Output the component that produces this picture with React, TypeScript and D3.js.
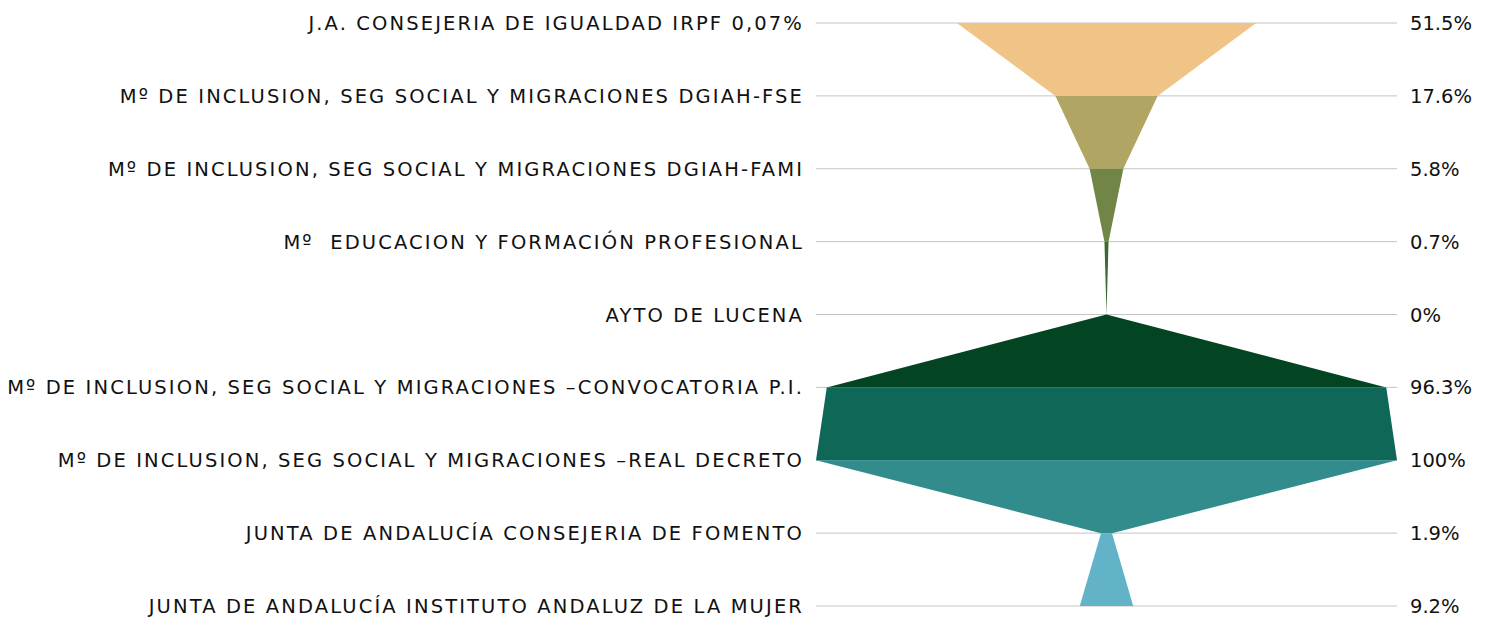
import React from "react";
import * as d3 from "d3";

const categories = [
  "J.A. CONSEJERIA DE IGUALDAD IRPF 0,07%",
  "Mº DE INCLUSION, SEG SOCIAL Y MIGRACIONES DGIAH-FSE",
  "Mº DE INCLUSION, SEG SOCIAL Y MIGRACIONES DGIAH-FAMI",
  "Mº  EDUCACION Y FORMACIÓN PROFESIONAL",
  "AYTO DE LUCENA",
  "Mº DE INCLUSION, SEG SOCIAL Y MIGRACIONES –CONVOCATORIA P.I.",
  "Mº DE INCLUSION, SEG SOCIAL Y MIGRACIONES –REAL DECRETO",
  "JUNTA DE ANDALUCÍA CONSEJERIA DE FOMENTO",
  "JUNTA DE ANDALUCÍA INSTITUTO ANDALUZ DE LA MUJER",
];
const values = [51.5, 17.6, 5.8, 0.7, 0, 96.3, 100, 1.9, 9.2];
const valueLabels = ["51.5%", "17.6%", "5.8%", "0.7%", "0%", "96.3%", "100%", "1.9%", "9.2%"];
const colors = ["#F0C487", "#B0A562", "#718546", "#3A6A30", "#034423", "#0F6758", "#328C8C", "#62B3C7"];

export default function App() {
  const W = 1490, H = 619;
  const left = 816, right = 1397;
  const cx = (left + right) / 2;
  const y = d3.scalePoint<string>().domain(categories).range([23, 606]);
  const hw = d3.scaleLinear().domain([0, 100]).range([0, (right - left) / 2]);
  const font = "'DejaVu Sans', sans-serif";
  const fs = 19.5;
  const segs = d3.range(categories.length - 1).map((i) => {
    const y0 = y(categories[i])!, y1 = y(categories[i + 1])!;
    const a = hw(values[i]), b = hw(values[i + 1]);
    const pts: [number, number][] = [[cx - a, y0], [cx + a, y0], [cx + b, y1], [cx - b, y1]];
    return { d: d3.line()(pts)! + "Z", fill: colors[i] };
  });
  return (
    <svg width={W} height={H} style={{ position: "absolute", left: 0, top: 0, background: "#fff" }}>
      {categories.map((c) => (
        <line key={c} x1={left} x2={right} y1={y(c)} y2={y(c)} stroke="#c4c4c4" strokeWidth={1} />
      ))}
      {segs.map((s, i) => (
        <path key={i} d={s.d} fill={s.fill} />
      ))}
      {categories.map((c) => (
        <text key={c} x={804} y={y(c)} dy="0.36em" textAnchor="end" fontFamily={font} fontSize={fs}
          letterSpacing={2.12} style={{ whiteSpace: "pre" }} fill="#111">
          {c}
        </text>
      ))}
      {categories.map((c, i) => (
        <text key={c} x={1410} y={y(c)} dy="0.36em" textAnchor="start" fontFamily={font} fontSize={fs}
          letterSpacing={0} fill="#111">
          {valueLabels[i]}
        </text>
      ))}
    </svg>
  );
}
